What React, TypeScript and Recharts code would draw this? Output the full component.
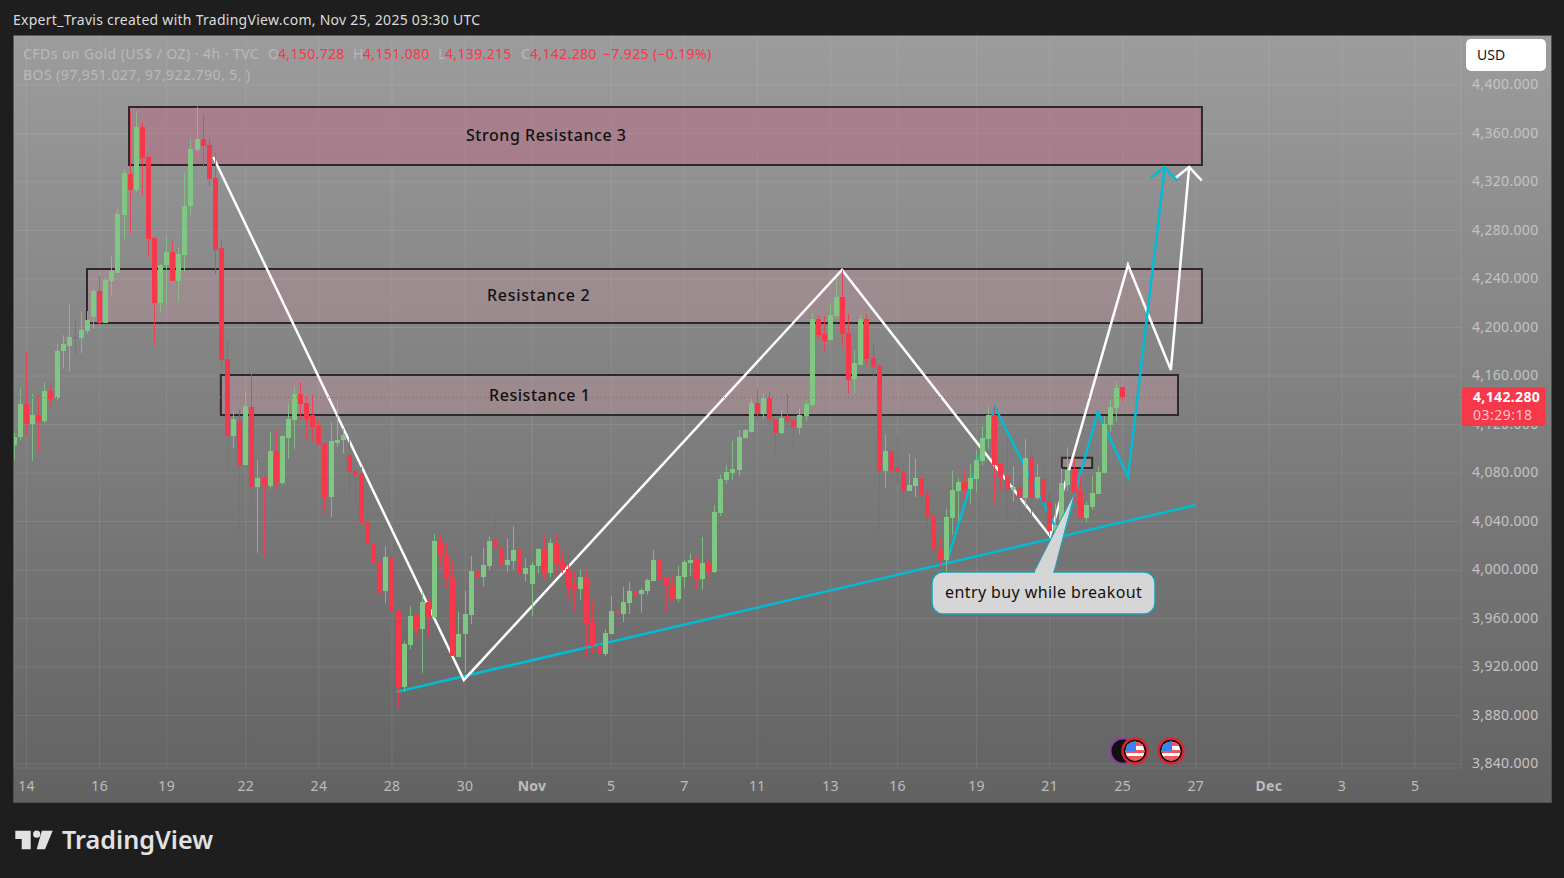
import React from "react";
import { ComposedChart, Bar, Line, XAxis, YAxis, CartesianGrid, ReferenceArea, ReferenceLine } from "recharts";

const opens = [
  4103,4110,4137,4120,4128,4123,4148,4142,4181,4185,
  4192,4191,4197,4208.7,4230,4203.7,4238,4245,4292.8,4326.6,
  4313.4,4365.4,4340.6,4273.8,4220,4251.6,4262,4238.4,4259.8,4300.2,
  4346.4,4355.5,4350.5,4323.3,4265.6,4174,4110.8,4122.9,4086.6,4134.5,
  4068.7,4075.9,4069.3,4098.2,4071.8,4108.9,4123.7,4145.2,4137.7,4127.8,
  4118.8,4104.5,4060.2,4104.7,4107.2,4094.9,4081.7,4079.2,4039.6,4021.5,
  4006.6,3982.7,4010.7,3965.9,3903.5,3938.2,3962,3951.3,3973.6,3961.2,
  4024,4012.4,3994.2,3928.5,3947.2,3962.9,3999.2,3994.2,4003.3,4024.8,
  4019,4004,4007.4,4016.5,3996.7,3988.4,4003.3,4017.3,3997.5,4022.2,
  4006.6,4000.8,3986.8,3984.3,3994.2,3957.1,3938.1,3930.7,3947.2,3966.2,
  3963.7,3972.8,3982.7,3980,3982.7,3990.9,4008.2,3993.4,3987.6,3976,
  3994.2,4005.7,4008.2,3992.5,4005.7,3998.3,4047,4074.3,4080,4082.5,
  4108.9,4113.9,4137.8,4128.7,4141.9,4124.6,4113,4127,4123.7,4117.1,
  4127,4136,4207,4194.7,4189.7,4209.5,4225.2,4195.5,4157.6,4169,
  4207,4174.9,4168.3,4081.7,4098.2,4085,4081.7,4065.2,4069.3,4075.9,
  4062.7,4045.1,4017.4,4008.3,4042.9,4065.2,4072.6,4066.9,4075.1,4090,
  4108,4127.9,4087.5,4077.6,4066,4068.5,4059.4,4093.3,4059.4,4075.1,
  4057,4032,4036.3,4070,4082.5,4064.4,4043,4052,4062.7,4080,
  4119.6,4133.7,4150.728,
];
const highs = [
  4113,4150,4179.5,4145,4144,4155,4152.6,4187,4193.6,4218.6,
  4206,4212.5,4213.6,4232,4242.5,4241.7,4259,4298,4330.7,4378,
  4378.6,4369.5,4342,4274.6,4253,4274.6,4271.4,4266.4,4327.4,4355.5,
  4382,4375.3,4355.5,4344,4272,4188.9,4131,4132.8,4146.8,4161.7,
  4090.7,4078.4,4113.8,4116,4111,4137.7,4150.9,4155,4143.5,4144.3,
  4123.7,4104.5,4122,4139.4,4117,4108.6,4083.9,4085.2,4049.5,4022,
  4009.6,4019.8,4013.8,3967.6,3941,3970.3,3964.3,3982.1,3976.6,4029.7,
  4030.2,4022,4006.9,3965.7,3982.7,4011.6,4000,4018.2,4027.5,4046.7,
  4019,4026,4036.3,4027.5,4009.6,4006.6,4017.8,4028,4026,4030.2,
  4014.8,4005,3998.6,4000.5,4000,3976,3943.6,3951.3,3978.5,3986.8,
  3986,3990,3990.6,3984.9,3992.8,4016.5,4019.8,3993.7,3995,4003.3,
  4008.2,4013.7,4011.5,4027.2,4008.8,4053.6,4078.4,4086.6,4106.4,4115.5,
  4116.3,4140.8,4149,4145.7,4146.8,4124.6,4132,4145.2,4125.4,4133.4,
  4140.2,4212,4210.3,4209.5,4219.4,4240,4247.5,4211.2,4181.5,4210.3,
  4211.2,4187.2,4170,4111.4,4099.5,4109.7,4088,4095.7,4092.1,4080.9,
  4065.2,4055,4026.4,4050.4,4081.7,4076.2,4082.5,4087.2,4099,4118.8,
  4134.8,4134.8,4087.5,4110.6,4085.8,4077,4108.1,4099,4086.7,4089.1,
  4064.7,4055,4084,4101.2,4093,4077.6,4056.4,4077.6,4085.8,4126.5,
  4140.3,4155.9,4151.08,
];
const lows = [
  4091,4107,4110.8,4090,4098,4121,4135,4140,4166,4164,
  4176,4179,4195,4198.8,4203,4203.7,4226.8,4245,4273,4278,
  4311.8,4308.5,4258,4185.6,4212,4218.6,4238.4,4221,4245.8,4292.8,
  4344.8,4332.4,4316.7,4244,4167.4,4081,4100.9,4002.8,4086.6,4052,
  4014.3,4011,4067.1,4066.5,4070.5,4091.6,4099.8,4124.5,4107.2,4105.6,
  4102.3,4047,4043.7,4101.4,4096.2,4057.7,4053.6,4023.9,4013.2,3971.1,
  3980.8,3972.5,3958.8,3886.5,3899.7,3934.9,3945,3915.3,3944.2,3960,
  4002.8,3984.9,3929,3928.5,3915.3,3955.5,3960.2,3986.8,4000,4011,
  3988.4,3998.6,4000,3972,3990.9,3962,3997.2,3992.3,3994.2,3995,
  3997.2,3975.2,3966.2,3975.2,3928,3931,3930,3929,3947.2,3955.4,
  3957.1,3963.7,3970,3964.8,3979.4,3990.9,3988.4,3966.2,3976,3973.6,
  3985,3995,3984.3,3983.5,3994,3997.5,4044.6,4071,4074.3,4077.6,
  4108,4113.3,4124.6,4124.6,4119.6,4096.3,4112.2,4118.8,4098.2,4112.2,
  4122.9,4134.5,4190.5,4179.8,4189.7,4207.9,4184,4145.2,4145.2,4169,
  4169,4158.4,4031.7,4067.7,4075.1,4071,4049.5,4065.2,4060.2,4052,
  4006.6,4014.9,4004.2,3997.8,4028.9,4040.5,4059,4055,4064.7,4086.6,
  4100,4055,4065.2,4041.3,4056.4,4038.5,4050.9,4044,4057.8,4049.5,
  4028.4,4022.6,4030,4065,4055,4041.3,4039.4,4049.5,4062.7,4080,
  4114,4122.4,4139.215,
];
const closes = [
  4110,4137,4120,4128,4123,4148,4141,4181,4186,4192,
  4191,4198,4206,4230,4203.7,4239,4246.6,4293.6,4327.4,4313.4,
  4365.4,4339.8,4273,4220,4251.6,4262,4238.4,4260.6,4300.2,4347.2,
  4355.5,4349.7,4322.5,4263.9,4173.2,4110.8,4124.6,4086,4135.3,4068.7,
  4075.9,4069.3,4098.2,4072.6,4110.5,4124.5,4145.2,4136.9,4124.5,4117.7,
  4103.9,4060.2,4106.4,4107.2,4111.3,4080.8,4078.4,4038.8,4022,4005.8,
  3981,4010.7,3965.6,3903.2,3939,3962,3951.3,3973.6,3961.2,4024,
  4011.6,3993.4,3929,3947.2,3963.7,3999.2,3994.2,4004.1,4024,4018.2,
  4004,4008.2,4016.5,3997,4001.6,4004,4017.3,3997.5,4022.2,4005.7,
  4000,3986,3984.3,3994.2,3956.3,3937.3,3930.7,3948,3966.2,3963.7,
  3973.6,3982.7,3978.5,3983.5,3991.7,4008.2,3992.6,3986.8,3976,3995,
  4006.6,4008.2,3992.3,4005.7,3998.9,4047.8,4075.1,4080.9,4083.3,4109.7,
  4115.5,4137.8,4128.7,4141.9,4124.6,4113,4125.4,4122.9,4118,4127.9,
  4137,4207,4193.8,4188.9,4210.3,4225.2,4194.7,4156.7,4170.8,4207,
  4174,4167.5,4081.7,4098.2,4081.7,4080.9,4065.2,4070.1,4075.9,4061.9,
  4043.7,4016.5,4008.3,4043.7,4066,4072.6,4066,4075.9,4090.8,4108.9,
  4127.9,4086.6,4075.9,4066,4068.5,4059.4,4092.4,4059.4,4076.8,4056.4,
  4032,4037.2,4071.8,4082.5,4063.3,4043,4053.7,4063.6,4080.9,4120.5,
  4134.5,4150.2,4142.28,
];

const priceTicks = [4400,4360,4320,4280,4240,4200,4160,4120,4080,4040,4000,3960,3920,3880,3840];
const dateTicks = [2,14,25,38,50,62,74,85,98,110,122,134,145,158,170,182,194,206,218,230];
const dateLabels = ["14","16","19","22","24","28","30","Nov","5","7","11","13","16","19","21","25","27","Dec","3","5"];
const boldLabels = ["Nov","Dec"];

const whiteX = [32.66,73.8,135.9,170.05,182.86,189.9,192.9];
const whiteY = [4340.6,3909.3,4247.4,4028,4251.6,4165,4332.4];
const whiteHeadX = [190.7,192.9,194.96];
const whiteHeadY = [4323.5,4332.4,4321.1];
const cyanX = [153.1,161,172,177.9,182.86,188.9];
const cyanY = [4006.6,4134.4,4024.8,4130.3,4076.7,4332.4];
const cyanHeadX = [186.6,188.9,190.9];
const cyanHeadY = [4323.5,4332.4,4321.1];
const trendX = [62.7,194];
const trendY = [3899.4,4053.6];

const zoneNames = ["Strong Resistance 3","Resistance 2","Resistance 1","entry box"];
const zoneX1 = [18.82,11.92,33.9,172];
const zoneX2 = [195,195,191.07,176.98];
const zoneTop = [4381.9,4248.3,4160.8,4092.6];
const zoneBottom = [4334,4203.7,4127.9,4084.1];
const zoneFill = ["rgba(190,100,130,.45)","rgba(220,150,165,.25)","rgba(220,160,175,.3)","rgba(220,160,175,.3)"];

const lastPrice = 4142.28;

const rows = opens.map((o, i) => ({ i, o, h: highs[i], l: lows[i], c: closes[i] }));
const pts = (xs: number[], ys: number[]) => xs.map((i, k) => ({ i, p: ys[k] }));

const GREEN = "#81c784";
const RED = "#f7374a";
const CYAN = "#00bcd4";
const FONT = "'Noto Sans', sans-serif";

const Candle = (props: any) => {
  const { x, y, width, height, payload } = props;
  const top = Math.min(y, y + height);
  const hgt = Math.abs(height);
  const span = payload.h - payload.l;
  const k = span > 0 ? hgt / span : 0;
  const cx = x + width / 2;
  const left = Math.round(cx - 2.5);
  const bodyTop = top + (payload.h - Math.max(payload.o, payload.c)) * k;
  const bodyBottom = top + (payload.h - Math.min(payload.o, payload.c)) * k;
  const color = payload.c >= payload.o ? GREEN : RED;
  return (
    <g>
      <rect x={left + 2} y={top} width={1} height={hgt} fill={color} fillOpacity={0.85} />
      <rect x={left} y={Math.round(bodyTop)} width={5} height={Math.max(1, Math.round(bodyBottom) - Math.round(bodyTop))} fill={color} />
    </g>
  );
};

const DateTick = (props: any) => {
  const { x, payload } = props;
  const label = dateLabels[dateTicks.indexOf(payload.value)];
  return (
    <text x={x} y={785.5} textAnchor="middle" dominantBaseline="central" fontFamily={FONT} fontSize={14} letterSpacing={0.3}
      fontWeight={boldLabels.includes(label) ? 700 : 400} fill="#bdbdbd">{label}</text>
  );
};

const PriceTick = (props: any) => {
  const { x, y, payload } = props;
  return (
    <text x={x} y={y - 1} textAnchor="start" dominantBaseline="central" fontFamily={FONT} fontSize={14} letterSpacing={0.33} fill="#c4c4c4">
      {payload.value.toLocaleString("en-US", { minimumFractionDigits: 3 })}
    </text>
  );
};

const Txt = ({ x, y, color, size = 14, weight = 400, ls = 0, children }: any) => (
  <div style={{ position: "absolute", left: x, top: y, transform: "translateY(-50%)", color, fontSize: size, fontWeight: weight, letterSpacing: ls, fontFamily: FONT, whiteSpace: "nowrap", lineHeight: 1 }}>{children}</div>
);

const Flag = ({ cx, cy }: { cx: number; cy: number }) => (
  <g>
    <circle cx={cx} cy={cy} r={12.5} fill="#111" stroke="#e0232e" strokeWidth={2.4} />
    <clipPath id={`f${cx}`}><circle cx={cx} cy={cy} r={9.5} /></clipPath>
    <g clipPath={`url(#f${cx})`}>
      <rect x={cx - 10} y={cy - 10} width={20} height={20} fill="#fff" />
      <rect x={cx - 10} y={cy - 9} width={20} height={4} fill="#f2555a" />
      <rect x={cx - 10} y={cy - 1} width={20} height={3} fill="#f2555a" />
      <rect x={cx - 10} y={cy + 5} width={20} height={5} fill="#f2555a" />
      <rect x={cx - 10} y={cy - 10} width={11} height={10} fill="#3b82f0" />
    </g>
  </g>
);

const seriesLine = (xs: number[], ys: number[], stroke: string, w: number, key: string) => (
  <Line key={key} data={pts(xs, ys)} dataKey="p" stroke={stroke} strokeWidth={w} dot={false} activeDot={false} isAnimationActive={false} legendType="none" zIndex={200} />
);

export default function App() {
  return (
    <div style={{ position: "fixed", left: 0, top: 0, width: 1564, height: 878, background: "#1e1e1e", overflow: "hidden" }}>
      <div style={{ position: "absolute", left: 13, top: 35, width: 1537, height: 766, border: "1px solid #505050", background: "linear-gradient(180deg,#9c9c9c 0%,#626262 100%)" }} />
      <div style={{ position: "absolute", left: 0, top: 0 }}>
        <ComposedChart width={1564} height={878} data={rows} margin={{ top: 36, right: 13, bottom: 76, left: 14 }}>
          <CartesianGrid stroke="rgba(255,255,255,0.09)" strokeWidth={1} />
          <XAxis dataKey="i" type="number" domain={[-0.066, 237.54]} allowDataOverflow ticks={dateTicks} interval={0}
            axisLine={false} tickLine={false} tickSize={0} tickMargin={0} height={34} tick={<DateTick />} />
          <YAxis orientation="right" type="number" domain={[3836.7, 4440.4]} allowDataOverflow ticks={priceTicks} interval={0} width={90}
            axisLine={false} tickLine={false} tickSize={0} tickMargin={11} tick={<PriceTick />} />
          {zoneNames.map((n, k) => (
            <ReferenceArea key={n} x1={zoneX1[k]} x2={zoneX2[k]} y1={zoneBottom[k]} y2={zoneTop[k]} fill={zoneFill[k]} fillOpacity={1} stroke="#2b2b2b" strokeWidth={2} ifOverflow="hidden" />
          ))}
          <ReferenceLine y={lastPrice} stroke={RED} strokeDasharray="1 3" strokeWidth={1} />
          {seriesLine(trendX, trendY, CYAN, 2.5, "trend")}
          {seriesLine(whiteX, whiteY, "#ffffff", 2.5, "white")}
          {seriesLine(whiteHeadX, whiteHeadY, "#ffffff", 2.5, "whiteHead")}
          {seriesLine(cyanX, cyanY, CYAN, 2.5, "cyan")}
          {seriesLine(cyanHeadX, cyanHeadY, CYAN, 2.5, "cyanHead")}
          <Bar dataKey={(d: any) => [d.l, d.h]} barSize={5} shape={<Candle />} isAnimationActive={false} legendType="none" zIndex={300} />
        </ComposedChart>
      </div>

      <svg width={1564} height={878} style={{ position: "absolute", left: 0, top: 0, pointerEvents: "none" }}>
        <path d="M1034 572 L1075 492 L1054 572 Z" fill="#dcdcdc" fillOpacity={0.93} stroke="#1a9fb0" strokeWidth={1} />
        <rect x={932} y={572} width={223} height={42} rx={11} fill="#d6d6d6" stroke="#1a9fb0" strokeWidth={1.5} />
        <path d="M1035 572 L1053 572" stroke="#d6d6d6" strokeWidth={3} />
        <circle cx={1123} cy={751} r={12.5} fill="#111" stroke="#8e3aa8" strokeWidth={2} />
        <Flag cx={1135} cy={751} />
        <Flag cx={1171} cy={751} />
        <rect x={1462} y={387.5} width={83.5} height={38.5} rx={2} fill={RED} />
        <path d="M15.3 830.7H30.7V849.3H21.7V839H15.3Z" fill="#e2e2e2" />
        <circle cx={36.7} cy={834.2} r={3.6} fill="#e2e2e2" />
        <path d="M41.8 830.7H52.7L45 849.3H36.7Z" fill="#e2e2e2" />
      </svg>

      <Txt x={13} y={20} color="#dcdcdc" ls={0.27}>Expert_Travis created with TradingView.com, Nov 25, 2025 03:30 UTC</Txt>
      <Txt x={23} y={54} color="#b9b9b9" ls={0.44}>CFDs on Gold (US$ / OZ) · 4h · TVC</Txt>
      <Txt x={268} y={54} color="#b9b9b9">O</Txt><Txt x={278} y={54} color={RED} ls={0.35}>4,150.728</Txt>
      <Txt x={353} y={54} color="#b9b9b9">H</Txt><Txt x={363} y={54} color={RED} ls={0.35}>4,151.080</Txt>
      <Txt x={438} y={54} color="#b9b9b9">L</Txt><Txt x={445} y={54} color={RED} ls={0.35}>4,139.215</Txt>
      <Txt x={521} y={54} color="#b9b9b9">C</Txt><Txt x={530} y={54} color={RED} ls={0.35}>4,142.280</Txt>
      <Txt x={603} y={54} color={RED} ls={0.35}>−7.925 (−0.19%)</Txt>
      <Txt x={23} y={75} color="#b9b9b9" ls={0.44}>BOS (97,951.027, 97,922.790, 5, )</Txt>

      <div style={{ position: "absolute", left: 1466, top: 39, width: 80, height: 32, background: "#fff", borderRadius: 5 }} />
      <Txt x={1477} y={55} color="#131722">USD</Txt>

      <Txt x={466} y={135} color="#111" size={16} weight={500} ls={0.55}>Strong Resistance 3</Txt>
      <Txt x={487} y={295} color="#111" size={16} weight={500} ls={0.7}>Resistance 2</Txt>
      <Txt x={489} y={395} color="#111" size={16} weight={500} ls={0.55}>Resistance 1</Txt>
      <Txt x={945} y={592} color="#111" size={16} ls={0.4}>entry buy while breakout</Txt>

      <Txt x={1473} y={397} color="#fff" size={14} weight={700} ls={0.35}>4,142.280</Txt>
      <Txt x={1473} y={415} color="#fbc4c9" size={14} ls={0.5}>03:29:18</Txt>

      <Txt x={62} y={840} color="#e2e2e2" size={25.2} weight={600}>TradingView</Txt>
    </div>
  );
}
